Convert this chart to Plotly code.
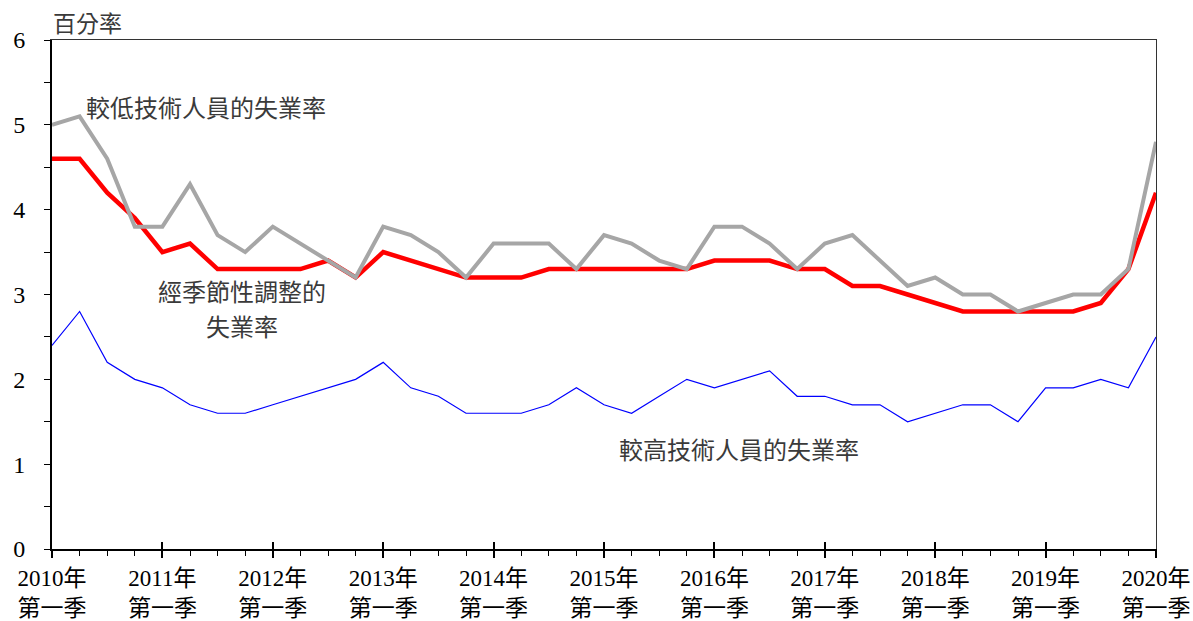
import plotly.graph_objects as go

# Quarterly unemployment rates (%), 2010 Q1 to 2020 Q1
quarters = list(range(41))

seasonally_adjusted = [4.6, 4.6, 4.2, 3.9, 3.5, 3.6, 3.3, 3.3, 3.3, 3.3,
                       3.4, 3.2, 3.5, 3.4, 3.3, 3.2, 3.2, 3.2, 3.3, 3.3,
                       3.3, 3.3, 3.3, 3.3, 3.4, 3.4, 3.4, 3.3, 3.3, 3.1,
                       3.1, 3.0, 2.9, 2.8, 2.8, 2.8, 2.8, 2.8, 2.9, 3.3,
                       4.2]

lower_skilled = [5.0, 5.1, 4.6, 3.8, 3.8, 4.3, 3.7, 3.5, 3.8, 3.6,
                 3.4, 3.2, 3.8, 3.7, 3.5, 3.2, 3.6, 3.6, 3.6, 3.3,
                 3.7, 3.6, 3.4, 3.3, 3.8, 3.8, 3.6, 3.3, 3.6, 3.7,
                 3.4, 3.1, 3.2, 3.0, 3.0, 2.8, 2.9, 3.0, 3.0, 3.3,
                 4.8]

higher_skilled = [2.4, 2.8, 2.2, 2.0, 1.9, 1.7, 1.6, 1.6, 1.7, 1.8,
                  1.9, 2.0, 2.2, 1.9, 1.8, 1.6, 1.6, 1.6, 1.7, 1.9,
                  1.7, 1.6, 1.8, 2.0, 1.9, 2.0, 2.1, 1.8, 1.8, 1.7,
                  1.7, 1.5, 1.6, 1.7, 1.7, 1.5, 1.9, 1.9, 2.0, 1.9,
                  2.5]

year_ticks = list(range(0, 41, 4))
year_labels = [f"{y}年<br>第一季" for y in range(2010, 2021)]

FONT = "Liberation Serif, Noto Sans CJK TC, serif"
LABEL_FONT = "Noto Sans CJK TC, sans-serif"
TEXT_GREY = "#3a3a3a"

fig = go.Figure()
fig.add_trace(go.Scatter(x=quarters, y=seasonally_adjusted, mode="lines",
                         line=dict(color="#FF0000", width=4.5), hoverinfo="y"))
fig.add_trace(go.Scatter(x=quarters, y=lower_skilled, mode="lines",
                         line=dict(color="#A6A6A6", width=4), hoverinfo="y"))
fig.add_trace(go.Scatter(x=quarters, y=higher_skilled, mode="lines",
                         line=dict(color="#0000FF", width=1.2), hoverinfo="y"))

axis_common = dict(showgrid=False, zeroline=False, automargin=False)

fig.update_layout(
    width=1193, height=621,
    margin=dict(l=52, r=37, t=40, b=72),
    paper_bgcolor="white", plot_bgcolor="white",
    showlegend=False,
    font=dict(family=FONT, size=22, color="black"),
    xaxis=dict(
        **axis_common, range=[0, 40],
        showline=True, linecolor="black", linewidth=2,
        tickmode="array", tickvals=year_ticks, ticktext=year_labels,
        ticks="outside", ticklen=7, tickwidth=1.5, tickcolor="black",
        minor=dict(ticks="outside", dtick=1, ticklen=5, tickwidth=1.2,
                   tickcolor="black", showgrid=False),
        tickfont=dict(family=FONT, size=23),
    ),
    # inward half of the yearly ticks on the time axis
    xaxis2=dict(
        **axis_common, range=[0, 40], overlaying="x", anchor="y", side="bottom",
        showline=False, tickmode="array", tickvals=year_ticks,
        showticklabels=False, ticks="inside", ticklen=7, tickwidth=1.5,
        tickcolor="black",
    ),
    # thin frame line along the top
    xaxis3=dict(
        **axis_common, range=[0, 40], overlaying="x", anchor="y", side="top",
        showline=True, linecolor="#333333", linewidth=1.2,
        showticklabels=False, ticks="",
    ),
    yaxis=dict(
        **axis_common, range=[0, 6],
        showline=True, linecolor="black", linewidth=2,
        tickmode="linear", tick0=0, dtick=1,
        ticks="outside", ticklen=6, tickwidth=1.2, tickcolor="black",
        minor=dict(ticks="outside", dtick=0.5, ticklen=6, tickwidth=1.2,
                   tickcolor="black", showgrid=False),
        tickfont=dict(family=FONT, size=24),
        ticklabelstandoff=14,
    ),
    # thin frame line along the right edge
    yaxis2=dict(
        **axis_common, range=[0, 6], overlaying="y", anchor="x", side="right",
        showline=True, linecolor="#333333", linewidth=1.2,
        showticklabels=False, ticks="",
    ),
)

# invisible helpers so the overlay axes get drawn
fig.add_trace(go.Scatter(x=[0, 40], y=[0, 0], xaxis="x2", yaxis="y",
                         mode="none", hoverinfo="skip"))
fig.add_trace(go.Scatter(x=[0, 40], y=[0, 0], xaxis="x3", yaxis="y2",
                         mode="none", hoverinfo="skip"))

annotations = [
    dict(text="百分率", xref="paper", yref="paper", x=0, y=1.0,
         xanchor="left", yanchor="bottom", yshift=0,
         font=dict(family=LABEL_FONT, size=23, color=TEXT_GREY)),
    dict(text="較低技術人員的失業率", x=5.58, y=5.22,
         font=dict(family=LABEL_FONT, size=24, color=TEXT_GREY)),
    dict(text="經季節性調整的", x=6.9, y=3.05,
         font=dict(family=LABEL_FONT, size=24, color=TEXT_GREY)),
    dict(text="失業率", x=6.9, y=2.64,
         font=dict(family=LABEL_FONT, size=24, color=TEXT_GREY)),
    dict(text="較高技術人員的失業率", x=24.9, y=1.19,
         font=dict(family=LABEL_FONT, size=24, color=TEXT_GREY)),
]
for a in annotations:
    a.setdefault("xref", "x")
    a.setdefault("yref", "y")
    a["showarrow"] = False
    a["borderpad"] = 0
    fig.add_annotation(**a)

fig.write_html("out.html")
